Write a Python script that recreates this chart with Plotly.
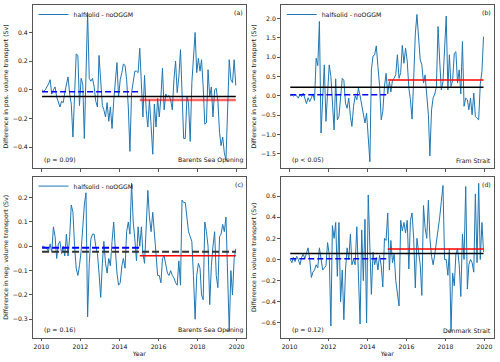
import pandas as pd
import plotly.graph_objects as go
from plotly.subplots import make_subplots

# monthly differences halfsolid - noOGGM (Sv), Jan 2010 .. Dec 2019
bso_pos = [0.00, -0.01, 0.00, 0.02, 0.04, 0.07, -0.03, 0.00, 0.02, -0.05,
           -0.08, -0.12, -0.08, -0.09, -0.02, 0.05, 0.09, -0.03, -0.10, -0.33,
           -0.05, 0.25, 0.24, -0.11, 0.08, 0.04, -0.34, 0.10, 0.54, 0.08,
           0.06, 0.08, 0.02, -0.08, -0.12, 0.24, 0.02, -0.11, -0.14, -0.19,
           -0.09, -0.22, -0.12, -0.27, -0.08, 0.07, 0.19, -0.05, 0.07, 0.12,
           0.18, 0.17, 0.07, -0.12, -0.43, -0.02, 0.05, 0.13, 0.13, 0.12,
           0.29, -0.02, -0.19, 0.10, -0.14, -0.26, -0.07, -0.25, -0.45, -0.10,
           -0.26, -0.06, -0.19, -0.05, 0.15, -0.14, -0.03, -0.05, -0.04, -0.07,
           -0.14, 0.07, 0.20, -0.02, 0.09, 0.28, -0.10, -0.34, -0.34, -0.05,
           -0.09, -0.36, 0.05, 0.21, 0.40, 0.12, 0.22, 0.13, 0.21, 0.02,
           -0.24, -0.23, 0.14, -0.05, 0.02, -0.19, 0.00, 0.01, -0.08, -0.30,
           -0.39, -0.33, -0.44, -0.49, -0.10, 0.21, 0.07, 0.05, 0.21, 0.03]

fram_pos = [0.00, 0.02, -0.01, 0.03, 0.00, -0.06, 0.04, -0.02, 0.07, -0.04,
            -0.20, -0.05, -0.15, -0.05, 0.05, -0.12, 0.97, 0.78, 1.92, -0.96,
            -0.15, 0.80, -0.66, 0.20, 0.80, 0.50, -0.20, -0.88, 0.44, -0.62,
            -0.53, 0.00, 0.45, 0.40, -0.19, -0.32, -0.06, -0.53, -0.79, -0.27,
            0.00, -0.10, 0.20, 0.00, -0.27, -0.45, -0.70, -0.45, -1.05, -1.70,
            0.67, 1.03, 1.06, 1.29, 0.76, 0.27, -0.62, -0.40, 0.25, 0.58,
            0.05, 0.37, 0.10, 0.41, 0.45, 0.55, 1.06, 0.45, 0.60, 1.30,
            0.84, 1.23, 0.90, 0.20, -0.10, -0.60, 0.41, 1.60, 2.10, 1.50,
            0.93, 0.80, 0.33, 0.54, 0.10, -0.49, -1.55, -0.36, -0.05, 0.05,
            0.24, 1.79, 0.90, 0.15, 0.37, 1.10, 2.06, 0.15, 1.06, 0.24,
            0.40, 1.10, 1.14, 0.33, 0.67, 0.05, 1.40, -0.27, -0.06, -0.10,
            -0.36, -0.06, -0.49, 0.07, -0.53, -0.58, -0.62, 0.30, 0.63, 1.53]

bso_neg = [0.00, 0.00, -0.005, -0.01, -0.02, 0.01, -0.025, 0.08, 0.04, -0.05,
           0.01, 0.02, -0.03, 0.00, -0.04, 0.05, -0.04, 0.04, 0.17, 0.14,
           0.00, -0.09, -0.12, -0.08, -0.02, 0.10, 0.17, 0.22, -0.29, -0.07,
           0.03, 0.05, 0.05, 0.00, -0.03, -0.11, -0.21, -0.07, 0.02, -0.07,
           -0.11, -0.05, -0.08, 0.02, 0.10, -0.01, -0.11, -0.16, -0.15, -0.08,
           -0.05, -0.09, 0.06, 0.10, 0.05, 0.26, 0.10, 0.03, -0.06, 0.08,
           0.00, 0.08, -0.03, -0.07, 0.08, 0.23, 0.12, 0.06, 0.14, 0.07,
           -0.03, -0.12, -0.12, -0.15, -0.05, -0.04, -0.08, -0.11, -0.12, -0.10,
           -0.12, -0.13, -0.15, -0.16, -0.06, -0.16, 0.19, 0.18, 0.18, 0.11,
           0.06, 0.04, 0.02, -0.12, -0.30, -0.12, -0.07, -0.09, -0.20, -0.22,
           0.10, 0.06, 0.00, -0.24, -0.08, 0.00, 0.06, -0.12, -0.17, 0.04,
           0.05, 0.09, 0.06, 0.12, -0.09, -0.35, -0.10, -0.20, -0.05, -0.01]

denmark = [0.00, -0.03, 0.02, -0.02, 0.03, 0.00, -0.05, 0.02, 0.05, 0.01,
           0.06, 0.11, 0.00, -0.17, -0.12, -0.10, -0.05, -0.08, 0.11, -0.02,
           -0.10, -0.08, -0.06, 0.16, 0.05, -0.63, 0.32, 0.20, 0.35, -0.16,
           0.35, -0.40, -0.10, -0.57, -0.10, 0.11, 0.00, 0.24, -0.05, 0.00,
           -0.05, 0.31, -0.20, -0.61, 0.28, -0.20, 0.38, -0.60, 0.61, 0.00,
           -0.33, 0.07, -0.05, 0.02, -0.10, 0.04, -0.06, -0.26, 0.20, 0.18,
           0.44, -0.10, 0.18, -0.03, 0.05, -0.20, -0.35, -0.44, 0.37, 0.27,
           0.35, 0.25, 0.37, -0.09, 0.37, 0.44, 0.20, -0.27, 0.20, 0.08,
           -0.05, -0.34, 0.51, 0.30, 0.20, 0.56, 0.20, 0.03, -0.05, 0.05,
           0.15, 0.27, 0.40, 0.55, 0.70, 0.00, 0.00, -0.15, 0.10, -0.68,
           -0.13, -0.25, 0.05, 0.10, -0.05, -0.35, 0.24, 0.00, 0.69, -0.28,
           -0.05, 0.00, -0.03, -0.12, 0.62, -0.03, 0.72, 0.00, 0.35, 0.07]

# means: whole period, 2010-2014, 2015-2019
mean_all = [-0.047, 0.22, -0.022, 0.057]
mean_first = [-0.014, 0.026, -0.006, 0.007]
mean_last = [-0.072, 0.41, -0.039, 0.098]

p_labels = ["(p = 0.09)", "(p < 0.05)", "(p = 0.16)", "(p = 0.12)"]
sections = ["Barents Sea Opening", "Fram Strait", "Barents Sea Opening", "Denmark Strait"]
letters = ["(a)", "(b)", "(c)", "(d)"]
ytitles = ["Difference in pos. volume transport (Sv)",
           "Difference in pos. volume transport (Sv)",
           "Difference in neg. volume transport (Sv)",
           "Difference in volume transport (Sv)"]
yranges = [[-0.546, 0.592], [-1.863, 2.345], [-0.376, 0.285], [-0.74, 0.78]]
ydticks = [0.2, 0.5, 0.1, 0.2]

dates = pd.date_range("2010-01-01", periods=120, freq="MS") + pd.Timedelta(days=14)
series = [bso_pos, fram_pos, bso_neg, denmark]

font = "DejaVu Sans"
fig = make_subplots(rows=2, cols=2)

cells = [(1, 1), (1, 2), (2, 1), (2, 2)]
legends = ["legend", "legend2", "legend3", None]
for k, (r, c) in enumerate(cells):
    vals = series[k]
    fig.add_trace(go.Scatter(x=dates, y=vals, mode="lines", name="halfsolid - noOGGM",
                             line=dict(color="#1f77b4", width=1),
                             showlegend=legends[k] is not None,
                             legend=legends[k] or "legend"), row=r, col=c)
    if k == 2:
        blk = dict(color="#333333", width=2, dash="7px,3px")
        blu = dict(color="blue", width=2, dash="7px,3px")
    else:
        blk = dict(color="black", width=1.5)
        blu = dict(color="blue", width=1.5, dash="6px,3px")
    red = dict(color="rgba(255,0,0,0.6)", width=2.5) if k == 0 else dict(color="red", width=1.5)
    fig.add_trace(go.Scatter(x=[dates[0], dates[-1]], y=[mean_all[k]] * 2, mode="lines",
                             line=blk, showlegend=False), row=r, col=c)
    fig.add_trace(go.Scatter(x=[dates[0], dates[60]], y=[mean_first[k]] * 2, mode="lines",
                             line=blu, showlegend=False), row=r, col=c)
    fig.add_trace(go.Scatter(x=[dates[60], dates[-1]], y=[mean_last[k]] * 2, mode="lines",
                             line=red, showlegend=False), row=r, col=c)

    fig.update_yaxes(range=yranges[k], dtick=ydticks[k], tickformat=".1f",
                     title=dict(text=ytitles[k], font=dict(size=6.2, color="#111"), standoff=3),
                     row=r, col=c)
    fig.update_xaxes(range=["2009-07-20", "2020-06-28"], tick0="2010-01-01", dtick="M24",
                     tickformat="%Y", showticklabels=(r == 2), row=r, col=c)
    if r == 2:
        fig.update_xaxes(title=dict(text="Year", font=dict(size=6.2, color="#111"), standoff=3),
                         row=r, col=c)

    sub = "" if k == 0 else str(k + 1)
    fig.add_annotation(xref=f"x{sub} domain", yref=f"y{sub} domain", x=0.995, y=0.985,
                       text=letters[k], showarrow=False, xanchor="right", yanchor="top",
                       font=dict(size=6.2, family=font, color="#111"))
    fig.add_annotation(xref=f"x{sub} domain", yref=f"y{sub} domain", x=0.045, y=0.01,
                       text=p_labels[k], showarrow=False, xanchor="left", yanchor="bottom",
                       font=dict(size=6.2, family=font, color="#111"))
    fig.add_annotation(xref=f"x{sub} domain", yref=f"y{sub} domain", x=0.995, y=0.01,
                       text=sections[k], showarrow=False, xanchor="right", yanchor="bottom",
                       font=dict(size=6.2, family=font, color="#111"))

axis_style = dict(showline=True, mirror=True, linecolor="#555", linewidth=1,
                  showgrid=False, zeroline=False, ticks="outside", ticklen=2.5,
                  tickcolor="#555", tickfont=dict(size=6.2, color="#111"), automargin=False)
fig.update_xaxes(**axis_style)
fig.update_yaxes(**axis_style)

xl = [0.065, 0.4925]
xr = [0.5614, 0.988]
yt = [0.5359, 0.9862]
yb = [0.0671, 0.511]
fig.update_layout(xaxis=dict(domain=xl), yaxis=dict(domain=yt),
                  xaxis2=dict(domain=xr), yaxis2=dict(domain=yt),
                  xaxis3=dict(domain=xl), yaxis3=dict(domain=yb),
                  xaxis4=dict(domain=xr), yaxis4=dict(domain=yb))

leg = dict(bgcolor="rgba(255,255,255,0)", borderwidth=0, font=dict(size=6.2, color="#111"),
           xanchor="left", yanchor="top", itemwidth=30, tracegroupgap=0)
fig.update_layout(
    width=500, height=362,
    margin=dict(l=0, r=0, t=0, b=0),
    paper_bgcolor="white", plot_bgcolor="white",
    font=dict(family=font, size=6.2, color="#111"),
    legend=dict(leg, x=0.067, y=1.0),
    legend2=dict(leg, x=0.5634, y=1.0),
    legend3=dict(leg, x=0.067, y=0.526),
)

fig.write_html("out.html", config={"displayModeBar": False},
               post_script="document.body.style.margin='0';"
               "document.body.style.overflow='hidden';")
